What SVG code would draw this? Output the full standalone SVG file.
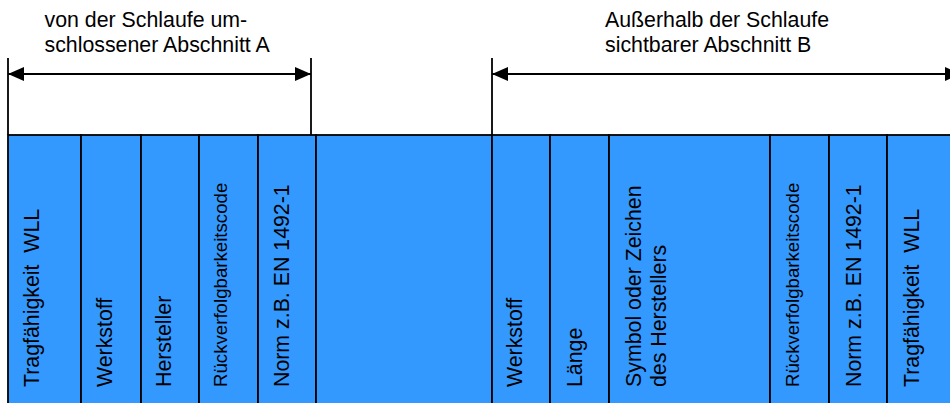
<svg xmlns="http://www.w3.org/2000/svg" width="950" height="403" viewBox="0 0 950 403">
<style>
.cell{fill:#3399ff;stroke:#000;stroke-width:1.8}
.ln{stroke:#000;stroke-width:1.8;fill:none}
.t{font-family:"Liberation Sans",Arial,sans-serif;font-size:21.33px;fill:#000}
.s{font-size:18.67px}
</style>
<defs>
<marker id="ah" markerUnits="userSpaceOnUse" markerWidth="16" markerHeight="14" viewBox="0 0 16 14" refX="16" refY="7" orient="auto-start-reverse">
<path d="M0,0 L16,7 L0,14 z" fill="#000"/>
</marker>
</defs>
<rect width="950" height="403" fill="#fff"/>
<g id="header-A">
<text class="t" x="44.5" y="27">von der Schlaufe um-</text>
<text class="t" x="44.5" y="52">schlossener Abschnitt A</text>
</g>
<g id="header-B">
<text class="t" x="605" y="27">Außerhalb der Schlaufe</text>
<text class="t" x="605" y="52">sichtbarer Abschnitt B</text>
</g>
<g id="c1"><rect class="cell" x="8" y="135" width="73" height="275"/><text class="t" xml:space="preserve" transform="translate(39,387) rotate(-90)">Tragfähigkeit  WLL</text></g>
<g id="c2"><rect class="cell" x="81" y="135" width="60" height="275"/><text class="t" transform="translate(112,387) rotate(-90)">Werkstoff</text></g>
<g id="c3"><rect class="cell" x="141" y="135" width="58" height="275"/><text class="t" transform="translate(171,387) rotate(-90)">Hersteller</text></g>
<g id="c4"><rect class="cell" x="199" y="135" width="59" height="275"/><text class="t s" transform="translate(227,387) rotate(-90)">Rückverfolgbarkeitscode</text></g>
<g id="c5"><rect class="cell" x="258" y="135" width="58" height="275"/><text class="t" transform="translate(289,387) rotate(-90)">Norm z.B. EN 1492-1</text></g>
<g id="c6"><rect class="cell" x="316" y="135" width="176" height="275"/></g>
<g id="c7"><rect class="cell" x="492" y="135" width="58" height="275"/><text class="t" transform="translate(522,387) rotate(-90)">Werkstoff</text></g>
<g id="c8"><rect class="cell" x="550" y="135" width="59" height="275"/><text class="t" transform="translate(582,387) rotate(-90)">Länge</text></g>
<g id="c9"><rect class="cell" x="609" y="135" width="161" height="275"/><text class="t" transform="translate(641,387) rotate(-90)">Symbol oder Zeichen</text><text class="t" transform="translate(666,387) rotate(-90)">des Herstellers</text></g>
<g id="c10"><rect class="cell" x="770" y="135" width="59" height="275"/><text class="t s" transform="translate(798.5,387) rotate(-90)">Rückverfolgbarkeitscode</text></g>
<g id="c11"><rect class="cell" x="829" y="135" width="58" height="275"/><text class="t" transform="translate(860.5,387) rotate(-90)">Norm z.B. EN 1492-1</text></g>
<g id="c12"><rect class="cell" x="887" y="135" width="80" height="275"/><text class="t" xml:space="preserve" transform="translate(918.5,387) rotate(-90)">Tragfähigkeit  WLL</text></g>
<g id="connectors">
<line class="ln" x1="8" y1="58" x2="8" y2="135"/>
<line class="ln" x1="311" y1="58" x2="311" y2="135"/>
<line class="ln" x1="492" y1="58" x2="492" y2="135"/>
<line class="ln" x1="8" y1="74" x2="311" y2="74" marker-start="url(#ah)" marker-end="url(#ah)"/>
<line class="ln" x1="492" y1="74" x2="961" y2="74" marker-start="url(#ah)" marker-end="url(#ah)"/>
</g>
</svg>
